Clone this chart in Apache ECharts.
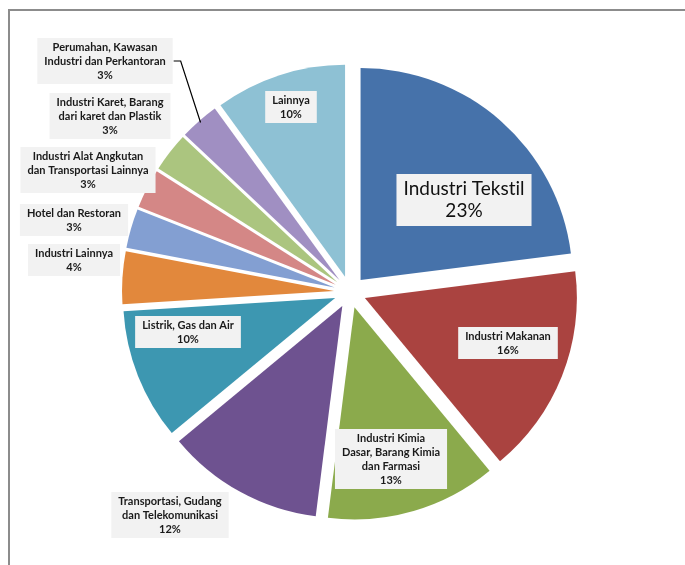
<!DOCTYPE html>
<html><head><meta charset="utf-8">
<script src="https://cdn.jsdelivr.net/npm/echarts@6/dist/echarts.min.js"></script>
<style>html,body{margin:0;padding:0;background:#fff}#c{width:685px;height:565px}</style>
</head><body><div id="c"></div>
<script>
// ---- data ----
const categories = [
  'Industri Tekstil',
  'Industri Makanan',
  'Industri Kimia\nDasar, Barang Kimia\ndan Farmasi',
  'Transportasi, Gudang\ndan Telekomunikasi',
  'Listrik, Gas dan Air',
  'Industri Lainnya',
  'Hotel dan Restoran',
  'Industri Alat Angkutan\ndan Transportasi Lainnya',
  'Industri Karet, Barang\ndari karet dan Plastik',
  'Perumahan, Kawasan\nIndustri dan Perkantoran',
  'Lainnya'
];
const shares = [23, 16, 13, 12, 10, 4, 3, 3, 3, 3, 10];

// ---- styling / layout ----
const colors = ['#4672AA','#AA4340','#8BAA4C','#6E5290','#3D97B1','#E2883C','#839FD2','#D48786','#ABC57F','#A08FC2','#8EC1D4'];
const labelAnchor = [[464,200],[508,343],[391,459],[170,515],[188,332],[74,260],[74,220],[88,170],[110,116],[105,61],[291,107]];
const leaderIndex = 9;
const CENTER = [350, 292], RADIUS = 212, EXPLODE = 16;

const chart = echarts.init(document.getElementById('c'), null, {renderer: 'canvas'});

const pieData = categories.map((name, i) => ({
  name, value: shares[i], selected: true, itemStyle: {color: colors[i]}
}));

const labelData = categories.map((name, i) => {
  const item = {name, value: shares[i]};
  if (i === 0) {
    item.label = {fontSize: 19, fontWeight: 'normal', lineHeight: 22, padding: [4, 7], color: '#111'};
  }
  if (i === leaderIndex) {
    item.label = {position: 'outside'};
    item.labelLine = {show: true, lineStyle: {color: '#000', width: 1.2}};
  }
  return item;
});

// split "ti" so the font does not draw it as a ligature
function labelText(p) {
  return (p.name + '\n' + p.value + '%').replace(/t(?=i)/g, '{n|t}');
}

chart.setOption({
  animation: false,
  backgroundColor: '#ffffff',
  graphic: [{
    type: 'rect', silent: true,
    shape: {x: 9, y: 10, width: 700, height: 600},
    style: {fill: 'none', stroke: '#8c8c8c', lineWidth: 2}
  }],
  series: [{
    type: 'pie',
    center: CENTER,
    radius: [0, RADIUS],
    startAngle: 90,
    clockwise: true,
    selectedMode: 'multiple',
    selectedOffset: EXPLODE,
    emphasis: {disabled: true},
    itemStyle: {borderWidth: 0},
    label: {show: false},
    labelLine: {show: false},
    data: pieData
  }, {
    type: 'pie',
    silent: true,
    z: 5,
    center: CENTER,
    radius: [0, RADIUS],
    startAngle: 90,
    clockwise: true,
    emphasis: {disabled: true},
    itemStyle: {color: 'rgba(0,0,0,0)', borderWidth: 0},
    label: {
      show: true,
      position: 'inside',
      formatter: labelText,
      fontFamily: 'Lato',
      fontWeight: 'bold',
      fontSize: 11,
      lineHeight: 14,
      color: '#1a1a1a',
      backgroundColor: '#F2F2F2',
      padding: [2, 7],
      align: 'center',
      rich: {n: {}}
    },
    labelLine: {show: false},
    labelLayout: function (p) {
      const a = labelAnchor[p.dataIndex];
      const o = {x: a[0], y: a[1], align: 'center', verticalAlign: 'middle'};
      if (p.dataIndex === leaderIndex && p.labelLinePoints) {
        const e = p.labelLinePoints[0];
        const vx = e[0] - CENTER[0], vy = e[1] - CENTER[1];
        const len = Math.sqrt(vx * vx + vy * vy) || 1;
        const start = [e[0] + vx / len * (EXPLODE - 2), e[1] + vy / len * (EXPLODE - 2)];
        const right = a[0] + p.labelRect.width / 2;
        o.labelLinePoints = [start, [right + 8, a[1]], [right + 1, a[1]]];
      }
      return o;
    },
    data: labelData
  }]
});
</script></body></html>
